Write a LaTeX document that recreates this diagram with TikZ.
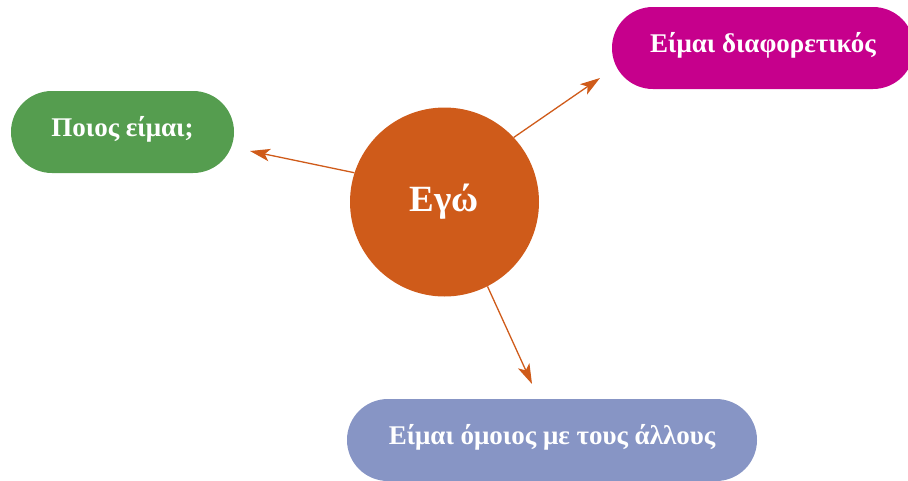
\documentclass[tikz,border=0pt]{standalone}
\usepackage{fontspec}
\setmainfont{Liberation Serif}
\usetikzlibrary{arrows.meta}
\definecolor{egoorange}{HTML}{CF5B1A}
\definecolor{pillgreen}{HTML}{559D4F}
\definecolor{pillmagenta}{HTML}{C6008C}
\definecolor{pillblue}{HTML}{8795C5}
\begin{document}
\begin{tikzpicture}[x=1pt,y=-1pt,
  pill/.style={rectangle, rounded corners=40.9pt, minimum height=82pt, inner sep=0pt,
    text=white, font=\fontsize{27}{30}\selectfont\bfseries, text height=19.5pt, text depth=10pt},
  egocircle/.style={circle, fill=egoorange, minimum size=189pt, inner sep=0pt,
    text=white, font=\fontsize{37}{40}\selectfont\bfseries},
  link/.style={draw=egoorange, line width=1.3pt, -{Stealth[length=20pt,width=12.5pt,inset=5pt]}}]
\useasboundingbox (0,0) rectangle (908,480);
\node[egocircle] (ego) at (444.5,202) {Εγώ};
\node[pill, fill=pillgreen, minimum width=223pt] (who) at (122.5,132) {Ποιος είμαι;};
\node[pill, fill=pillmagenta, minimum width=302pt] (diff) at (763,48) {Είμαι διαφορετικός};
\node[pill, fill=pillblue, minimum width=410pt] (same) at (552,440) {Είμαι όμοιος με τους άλλους};
\coordinate (whotip) at (250,151);
\coordinate (difftip) at (600,78);
\coordinate (sametip) at (532,384);
\draw[link] (ego.162) -- (whotip);
\draw[link] (ego.43.5) -- (difftip);
\draw[link] (ego.-63.4) -- (sametip);
\end{tikzpicture}
\end{document}
